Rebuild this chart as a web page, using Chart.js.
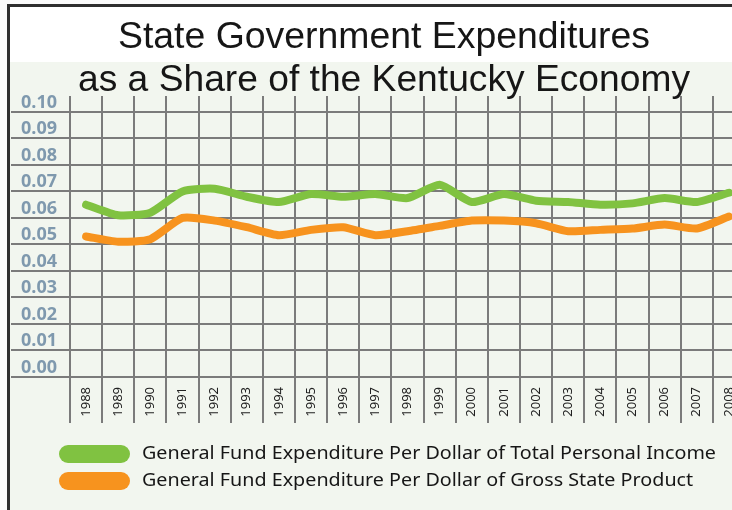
<!DOCTYPE html>
<html>
<head>
<meta charset="utf-8">
<script src="https://cdn.jsdelivr.net/npm/chart.js@4.4.1/dist/chart.umd.min.js"></script>
<style>
html, body { margin: 0; padding: 0; overflow: hidden; background: #fafafa; }
#wrap { position: relative; width: 760px; height: 510px; }
</style>
</head>
<body>
<div id="wrap"><canvas id="kyChart" width="760" height="510" style="width:760px;height:510px"></canvas></div>
<script>
const years = ['1988', '1989', '1990', '1991', '1992', '1993', '1994', '1995', '1996', '1997', '1998',
    '1999', '2000', '2001', '2002', '2003', '2004', '2005', '2006', '2007', '2008'];

// share of total personal income (green)
const personalIncome = [0.065, 0.061, 0.062, 0.070, 0.071, 0.068, 0.066, 0.069, 0.068, 0.069, 0.0675,
    0.0725, 0.066, 0.069, 0.0665, 0.066, 0.065, 0.0655, 0.0675, 0.066, 0.0695];

// share of gross state product (orange)
const grossStateProduct = [0.053, 0.051, 0.052, 0.060, 0.059, 0.0565, 0.0535, 0.0555, 0.0565, 0.0535, 0.055,
    0.057, 0.059, 0.059, 0.058, 0.055, 0.0555, 0.056, 0.0575, 0.056, 0.0605];

const yTicks = [0, 0.01, 0.02, 0.03, 0.04, 0.05, 0.06, 0.07, 0.08, 0.09, 0.10];

const titleLines = ['State Government Expenditures', 'as a Share of the Kentucky Economy'];

const gridColor = '#7b7b7b';

const backdrop = {
    id: 'backdrop',
    beforeDraw(chart) {
        const ctx = chart.ctx;
        ctx.save();
        ctx.fillStyle = '#fafafa';
        ctx.fillRect(0, 0, chart.width, chart.height);
        ctx.fillStyle = '#ffffff';
        ctx.fillRect(10, 7, chart.width, 55);
        ctx.fillStyle = '#f2f6ef';
        ctx.fillRect(10, 62, chart.width, chart.height);
        ctx.fillStyle = '#2e2e2e';
        ctx.fillRect(7, 4, chart.width, 3);
        ctx.fillRect(7, 4, 3, chart.height);
        ctx.restore();
    }
};

// draws text squeezed/stretched to a given width
function fitText(ctx, text, cx, y, width) {
    const w = ctx.measureText(text).width;
    ctx.save();
    ctx.translate(cx, y);
    ctx.scale(width / w, 1);
    ctx.fillText(text, 0, 0);
    ctx.restore();
}

const titleAndLegend = {
    id: 'titleAndLegend',
    afterDraw(chart) {
        const ctx = chart.ctx;
        ctx.save();
        ctx.fillStyle = '#161616';
        ctx.textAlign = 'center';
        ctx.textBaseline = 'alphabetic';
        ctx.font = '37px "Liberation Sans", Arial, sans-serif';
        fitText(ctx, titleLines[0], 384, 48, 532);
        fitText(ctx, titleLines[1], 384, 91, 612);

        // legend
        ctx.font = '18px "Noto Sans", sans-serif';
        ctx.textAlign = 'left';
        ctx.textBaseline = 'middle';
        const sx = 574 / ctx.measureText(chart.data.datasets[0].label).width;
        chart.data.datasets.forEach((ds, i) => {
            const top = 445 + i * 27;
            ctx.fillStyle = ds.borderColor;
            ctx.beginPath();
            ctx.roundRect(59, top, 71, 18, 9);
            ctx.fill();
            ctx.fillStyle = '#161616';
            ctx.save();
            ctx.translate(142, top + 9);
            ctx.scale(sx, 1);
            ctx.fillText(ds.label, 0, 0);
            ctx.restore();
        });
        ctx.restore();
    }
};

new Chart(document.getElementById('kyChart'), {
    type: 'line',
    data: {
        labels: years,
        datasets: [{
            label: 'General Fund Expenditure Per Dollar of Total Personal Income',
            data: personalIncome,
            borderColor: '#80c241',
            borderWidth: 8,
            tension: 0.2,
            pointRadius: 0,
            borderCapStyle: 'round',
            borderJoinStyle: 'round'
        }, {
            label: 'General Fund Expenditure Per Dollar of Gross State Product',
            data: grossStateProduct,
            borderColor: '#f7931e',
            borderWidth: 8,
            tension: 0.2,
            pointRadius: 0,
            borderCapStyle: 'round',
            borderJoinStyle: 'round'
        }]
    },
    options: {
        responsive: false,
        animation: false,
        layout: { padding: { top: 96, right: 15, left: 0, bottom: 0 } },
        plugins: {
            legend: { display: false },
            tooltip: { enabled: false }
        },
        scales: {
            x: {
                offset: true,
                border: { display: false },
                grid: { offset: true, color: gridColor, lineWidth: 2, tickLength: 46 },
                ticks: {
                    autoSkip: false,
                    minRotation: 90,
                    maxRotation: 90,
                    padding: -36,
                    color: '#222222',
                    font: { family: '"Noto Sans", sans-serif', size: 13 }
                },
                afterFit(scale) { scale.height = 133; }
            },
            y: {
                min: 0,
                max: 0.106,
                border: { display: false },
                grid: { color: gridColor, lineWidth: 2, tickLength: 59 },
                afterBuildTicks(scale) { scale.ticks = yTicks.map(v => ({ value: v })); },
                ticks: {
                    padding: -46,
                    labelOffset: -9.5,
                    color: '#7f99ae',
                    font: { family: '"Open Sans", sans-serif', size: 18, weight: 'bold' },
                    callback: v => v.toFixed(2)
                },
                afterFit(scale) { scale.width = 70; }
            }
        }
    },
    plugins: [backdrop, titleAndLegend]
});
</script>
</body>
</html>
